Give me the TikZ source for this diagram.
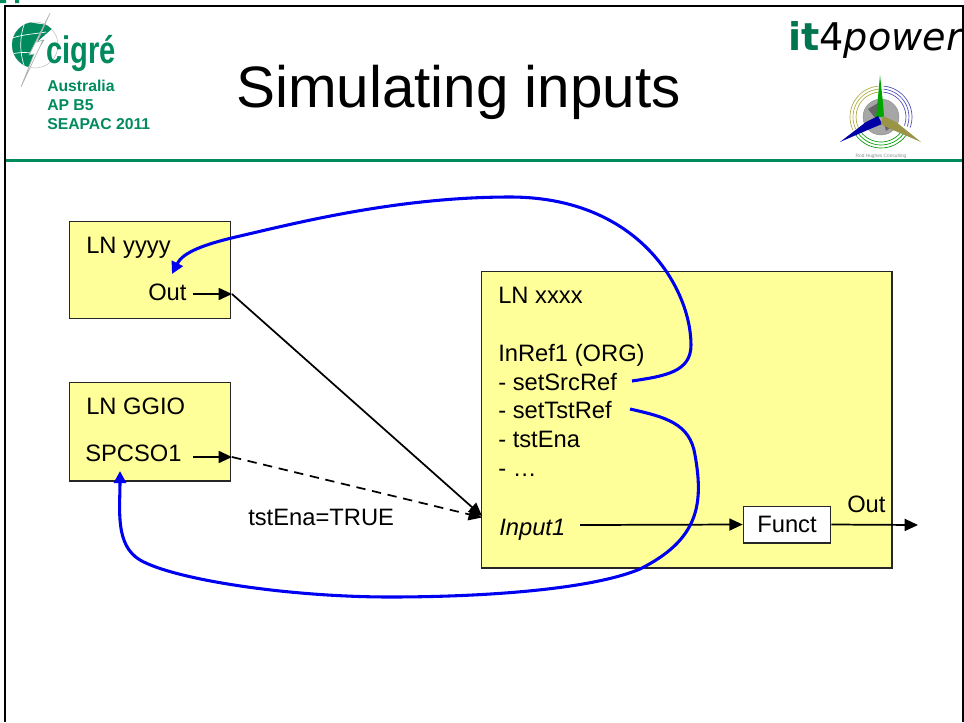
\documentclass[tikz,border=0pt]{standalone}
\usepackage{fontspec}
\setmainfont{Liberation Sans}
\newfontfamily\logofont{DejaVu Sans}
\usepackage{xcolor}
\usetikzlibrary{arrows.meta, positioning, calc}
\definecolor{cigregreen}{RGB}{0,138,94}
\definecolor{lnyellow}{RGB}{255,255,153}
\definecolor{wireblue}{RGB}{0,0,240}
\tikzset{
	lnbox/.style={draw=black!85, line width=1pt, fill=lnyellow, inner sep=0pt},
	lbl/.style={anchor=base west, inner sep=0pt, font=\fontsize{17.8pt}{20pt}\selectfont},
	grn/.style={anchor=base west, inner sep=0pt, text=cigregreen, font=\fontsize{11.8pt}{14pt}\selectfont\bfseries},
	wire/.style={line width=1.3pt, -{Triangle[length=10pt,width=9pt]}},
	feedback/.style={draw=wireblue, line width=2.3pt, -{Triangle[length=9pt,width=9pt]}}
}

\begin{document}
\begin{tikzpicture}[x=0.75pt, y=-0.75pt]
	\useasboundingbox (0,0) rectangle (964,722);
	% frame
	\fill[cigregreen] (0,0) rectangle (6,3) (15,0) rectangle (19,3);
	\draw[line width=1.5pt] (5,722) -- (5,5.5) -- (962.5,5.5) -- (962.5,722);
	\draw[cigregreen, line width=2pt] (6,160.5) -- (962,160.5);
	\node[inner sep=0pt, font=\fontsize{43.8pt}{50pt}\selectfont] (title) at (458.5,92) {Simulating inputs};

	% cigre logo
	\draw[black!25, line width=0.4pt] (35,45) circle (23);
	\begin{scope}
		\clip (35,45) circle (23);
		\fill[cigregreen] (12,20) -- (55,26) -- (37,42) -- (44,40) -- (27,69) -- (12,69) -- cycle;
		\draw[white, line width=0.5pt] (12,38) .. controls (25,34) and (35,34) .. (46,32);
		\draw[white, line width=0.5pt] (12,54) .. controls (20,52) and (28,52) .. (36,54);
		\draw[white, line width=0.5pt] (26,20) .. controls (19,35) and (19,55) .. (26,70);
	\end{scope}
	\draw[black!30, fill=white, line width=0.5pt] (50,13) -- (37,42) -- (43,40) -- (21,87) -- (34,54) -- (29,55) -- cycle;
	\node[anchor=base west, inner sep=0pt, text=cigregreen, font=\fontsize{23pt}{26pt}\selectfont\bfseries] (cigre) at (46,63) {\scalebox{0.95}[1.25]{cigré}};
	\node[grn] (aus) at (47,91) {Australia};
	\node[grn] (apb) at (47,110) {AP B5};
	\node[grn] (sea) at (47,129) {SEAPAC 2011};

	% it4power logo
	\begin{scope}
		\clip (770,6) rectangle (961.5,70);
		\node[anchor=base west, inner sep=0pt, font=\logofont\fontsize{28.6pt}{30pt}\selectfont] (itp) at (788,50) {\textcolor{cigregreen!85!black}{\bfseries it}4\textit{power}};
	\end{scope}

	% turbine logo
	\draw[black!45, fill=black!35, line width=0.3pt] (881,117) circle (18);
	\fill[black!60] (868,109) -- (878,103) -- (876,119) -- cycle (884,123) -- (894,125) -- (886,131) -- cycle;
	\foreach \r in {25,28,31} {
		\draw[yellow!65!black, line width=0.5pt] (881,117) ++(-95:\r) arc[start angle=-95, end angle=-205, radius=\r];
		\draw[blue!60!black!70, line width=0.5pt] (881,117) ++(-85:\r) arc[start angle=-85, end angle=20, radius=\r];
		\draw[green!60!black, line width=0.5pt] (881,117) ++(-215:\r) arc[start angle=-215, end angle=-330, radius=\r];
	}
	\fill[green!65!black] (880,75) -- (877,108) -- (876,117) -- (884,117) -- (883,103) -- cycle;
	\fill[blue!65!black] (840,142) -- (866,122) -- (878,116) -- (882,124) -- (870,129) -- cycle;
	\fill[yellow!55!black] (921,142) -- (896,122) -- (883,116) -- (881,124) -- (893,130) -- cycle;
	\node[inner sep=0pt, text=black!45, font=\fontsize{3.6pt}{4pt}\selectfont] (rod) at (881,156) {Rod Hughes Consulting};

	% logical nodes
	\draw (150,270) node[lnbox, minimum width=121pt, minimum height=73pt] (yyyy) {}
		(150,431.5) node[lnbox, minimum width=121pt, minimum height=74pt] (ggio) {}
		(686.5,419.5) node[lnbox, minimum width=308pt, minimum height=222.5pt] (xxxx) {}
		(787,524.5) node[draw=black!85, line width=1pt, fill=white, inner sep=0pt, minimum width=65.5pt, minimum height=27.5pt, font=\fontsize{17.8pt}{20pt}\selectfont] (funct) {Funct};

	\node[lbl] (yname) at (86,253) {LN yyyy};
	\node[lbl] (yout) at (148,300.5) {Out};
	\node[lbl] (gname) at (86,414) {LN GGIO};
	\node[lbl] (gout) at (85,461.5) {SPCSO1};
	\node[lbl] (xname) at (498,303) {LN xxxx};
	\node[lbl] (inref) at (498,361.5) {InRef1 (ORG)};
	\node[lbl] (srcref) at (498,390) {- setSrcRef};
	\node[lbl] (tstref) at (498,418.5) {- setTstRef};
	\node[lbl] (tstena) at (498,447.5) {- tstEna};
	\node[lbl] (dots) at (498,476) {- …};
	\node[lbl] (input) at (499,535) {\itshape Input1};
	\node[lbl] (fout) at (847,512) {Out};
	\node[lbl] (cond) at (248,525) {tstEna=TRUE};

	\coordinate (youtb) at (193,294);
	\coordinate (youte) at (232,294);
	\coordinate (goutb) at (193,457);
	\coordinate (goute) at (232,457);
	\coordinate (inb) at (580,525);
	\coordinate (xin1) at (482,516);
	\coordinate (xin2) at (482,517.5);
	\coordinate (ffree) at (918,525);
	\coordinate (srcb) at (632,381);
	\coordinate (yend) at (172,274);
	\coordinate (tstb) at (630,409);
	\coordinate (gend) at (120,471);

	\draw[wire] (youtb) -- (youte);
	\draw[wire] (goutb) -- (goute);
	\draw[wire] (youte) -- (xin1);
	\draw[wire, dash pattern=on 7pt off 5pt] (goute) -- (xin2);
	\draw[wire] (inb) -- (funct.west);
	\draw[wire] (funct.east) -- (ffree);

	% blue feedback
	\draw[feedback] (srcb) .. controls (665,376) and (691,372) .. (691,345)
		.. controls (691,290) and (640,197) .. (510,197)
		.. controls (400,197) and (300,222) .. (240,236)
		.. controls (205,244) and (183,252) .. (yend);
	\draw[feedback] (tstb) .. controls (665,417) and (690,423) .. (695,455)
		.. controls (704,505) and (698,540) .. (640,569)
		.. controls (590,590) and (480,597) .. (390,597)
		.. controls (290,597) and (175,580) .. (140,560)
		.. controls (115,545) and (120,510) .. (gend);
\end{tikzpicture}
\end{document}
